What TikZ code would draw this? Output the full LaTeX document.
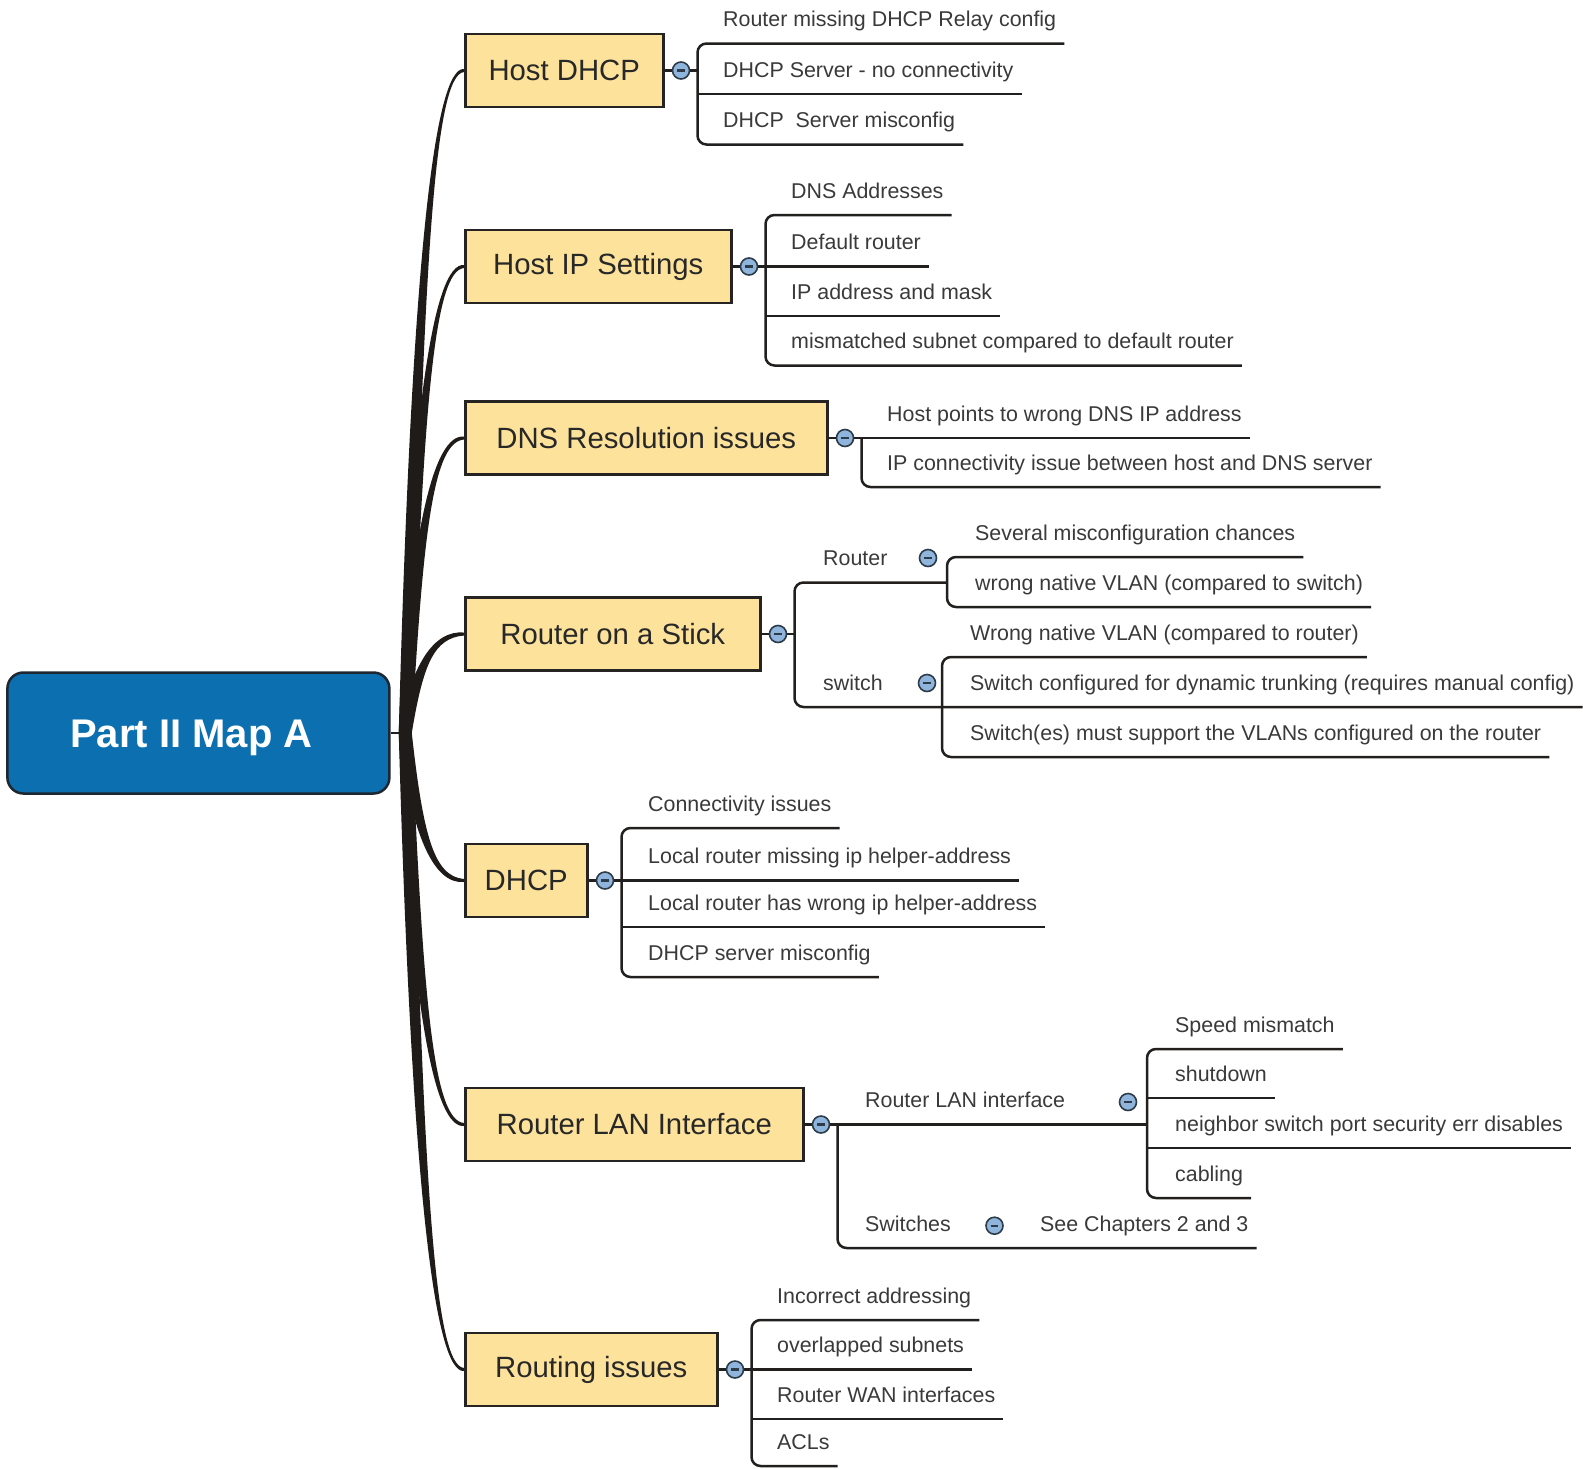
\documentclass[tikz,border=0pt]{standalone}
\usepackage{fontspec}
\setmainfont{Liberation Sans}
\usetikzlibrary{calc}

\definecolor{rootblue}{RGB}{11,111,176}
\definecolor{rootline}{RGB}{30,40,50}
\definecolor{boxfill}{RGB}{252,226,155}
\definecolor{boxline}{RGB}{38,36,34}
\definecolor{boxtext}{RGB}{40,40,40}
\definecolor{leaftext}{RGB}{58,58,58}
\definecolor{lineclr}{RGB}{34,32,30}
\definecolor{trunkclr}{RGB}{30,27,24}
\definecolor{togfill}{RGB}{143,181,220}
\definecolor{togline}{RGB}{46,59,72}

\newcommand\leaffont{\fontsize{21.4}{24}\selectfont}
\newcommand\topicfont{\fontsize{29.3}{32}\selectfont}
\newcommand\rootfont{\fontsize{40}{44}\selectfont\bfseries}

\pgfdeclarelayer{bg}
\pgfsetlayers{bg,main}

% tapered branch from the junction to the west side of a topic box
% #1 topic name; #2/#3 end and control offsets of one edge, #4/#5 of the other
\newcommand\branch[5]{%
  \fill[trunkclr] ($(jn)+(-6.5,0)$)
    .. controls ($(jn)!0.7!(jn|-#1.west)+(6,0)$) and ($(#1.west)+(-30,#3)$)
    .. ($(#1.west)+(0,#2)$)
    -- ($(#1.west)+(0,#4)$)
    .. controls ($(#1.west)+(-30,#5)$) and ($(jn)!0.7!(jn|-#1.west)+(18,0)$)
    .. ($(jn)+(6.5,0)$) -- cycle;}

\begin{document}
\begin{tikzpicture}[x=1pt,y=-1pt,
  rootbox/.style={draw=rootline, line width=2.5pt, fill=rootblue, rounded corners=16pt,
    minimum width=382pt, minimum height=121pt, inner sep=0pt, text=white, font=\rootfont,
    text height=28.6pt, text depth=0pt},
  topic/.style={draw=boxline, line width=2.5pt, fill=boxfill, minimum height=73pt,
    inner sep=0pt, anchor=west, text=boxtext, font=\topicfont},
  leaf/.style={anchor=south west, inner xsep=8pt, inner ysep=0pt, text height=16pt,
    text depth=16.5pt, text=leaftext, font=\leaffont},
  leafline/.style={draw=lineclr, line width=2.5pt, rounded corners=9pt},
  conn/.style={draw=lineclr, line width=2.2pt},
  toggle/.style={circle, draw=togline, line width=1.6pt, fill=togfill, minimum size=17pt,
    inner sep=0pt, path picture={\draw[line width=2.2pt, togline]
      ([xshift=-3.6pt]path picture bounding box.center) --
      ([xshift=3.6pt]path picture bounding box.center);}}
]
\useasboundingbox (0,0) rectangle (1583,1468);
\begin{pgfonlayer}{bg}
  \fill[white] (0,0) rectangle (1583,1468);
\end{pgfonlayer}

% central topic
\node[rootbox] (root) at (198.4,733) {Part II Map A\hspace*{14pt}};
\coordinate (jn) at ($(root.east)+(14.6,0)$);

% main topics
\node[topic, minimum width=198pt] (hd)   at (464,70.5)   {Host DHCP};
\node[topic, minimum width=266pt] (hip)  at (464,266.5)  {Host IP Settings};
\node[topic, minimum width=362pt] (dns)  at (464,438)    {DNS Resolution issues};
\node[topic, minimum width=295pt] (ros)  at (464,634)    {Router on a Stick};
\node[topic, minimum width=122pt] (dhcp) at (464,880.5)  {DHCP};
\node[topic, minimum width=338pt] (lan)  at (464,1124.5) {Router LAN Interface};
\node[topic, minimum width=252pt] (rte)  at (464,1369.5) {Routing issues};

% branches
\begin{pgfonlayer}{bg}
  \draw[conn] (root.east) -- (jn);
  \branch{hd}{-1.5}{-4}{1.5}{4}
  \branch{hip}{-1.5}{-4}{1.5}{4}
  \branch{dns}{-1.5}{-4}{1.5}{4}
  \branch{ros}{-1.5}{-4}{1.5}{4}
  \branch{dhcp}{1.5}{4}{-1.5}{-4}
  \branch{lan}{1.5}{4}{-1.5}{-4}
  \branch{rte}{1.5}{4}{-1.5}{-4}
\end{pgfonlayer}

% collapse toggles and spine anchors
\foreach \t/\i in {hd/1,hip/2,dns/3,ros/4,dhcp/5,lan/6,rte/7}{
  \node[toggle] (c\i) at ($(\t.east)+(16.5,0)$) {};
  \coordinate (s\i) at ($(\t.east)+(33,0)$);
}

% ---- Host DHCP
\node[leaf] (l11) at (715,43.5)  {Router missing DHCP Relay config};
\node[leaf] (l12) at (715,94)    {DHCP Server - no connectivity};
\node[leaf] (l13) at (715,144.5) {DHCP\ \ Server misconfig};
\draw[conn] (hd.east) -- (c1) -- (s1);
\draw[leafline] (l11.south east) -- (l11.south -| s1) -- (l13.south -| s1) -- (l13.south east);
\draw[leafline] (s1 |- l12.south) -- (l12.south east);

% ---- Host IP Settings
\node[leaf] (l21) at (783,215)   {DNS Addresses};
\node[leaf] (l22) at (783,266.5) {Default router};
\node[leaf] (l23) at (783,316)   {IP address and mask};
\node[leaf] (l24) at (783,365.5) {mismatched subnet compared to default router};
\draw[conn] (hip.east) -- (c2) -- (s2);
\draw[leafline] (l21.south east) -- (l21.south -| s2) -- (l24.south -| s2) -- (l24.south east);
\draw[leafline] (s2 |- l22.south) -- (l22.south east);
\draw[leafline] (s2 |- l23.south) -- (l23.south east);

% ---- DNS Resolution issues
\node[leaf] (l31) at (879,438) {Host points to wrong DNS IP address};
\node[leaf] (l32) at (879,487) {IP connectivity issue between host and DNS server};
\draw[conn] (dns.east) -- (c3) -- (s3);
\draw[leafline] (s3) -- (l31.south east);
\draw[leafline] (s3) -- (l32.south -| s3) -- (l32.south east);

% ---- Router on a Stick
\coordinate (j4r) at (947,582.5);
\coordinate (j4s) at (942,707);
\node[leaf] (lr)  at (815,582.5) {Router};
\node[leaf] (lsw) at (815,707)   {switch};
\node[toggle] (cr)  at (928,558) {};
\node[toggle] (csw) at (927,683) {};
\node[leaf] (lr1) at (967,557) {Several misconfiguration chances};
\node[leaf] (lr2) at (967,607) {wrong native VLAN (compared to switch)};
\node[leaf] (ls1) at (962,657) {Wrong native VLAN (compared to router)};
\node[leaf] (ls2) at (962,707) {Switch configured for dynamic trunking (requires manual config)};
\node[leaf] (ls3) at (962,757) {Switch(es) must support the VLANs configured on the router};
\draw[conn] (ros.east) -- (c4) -- (s4);
\draw[leafline] (j4r) -- (j4r -| s4) -- (j4s -| s4) -- (ls2.south east);
\draw[leafline] (lr1.south east) -- (lr1.south -| j4r) -- (lr2.south -| j4r) -- (lr2.south east);
\draw[leafline] (ls1.south east) -- (ls1.south -| j4s) -- (ls3.south -| j4s) -- (ls3.south east);

% ---- DHCP
\node[leaf] (l51) at (640,828)   {Connectivity issues};
\node[leaf] (l52) at (640,880.5) {Local router missing ip helper-address};
\node[leaf] (l53) at (640,927)   {Local router has wrong ip helper-address};
\node[leaf] (l54) at (640,977)   {DHCP server misconfig};
\draw[conn] (dhcp.east) -- (c5) -- (s5);
\draw[leafline] (l51.south east) -- (l51.south -| s5) -- (l54.south -| s5) -- (l54.south east);
\draw[leafline] (s5 |- l52.south) -- (l52.south east);
\draw[leafline] (s5 |- l53.south) -- (l53.south east);

% ---- Router LAN Interface
\coordinate (j6) at (1147,1124.5);
\node[leaf] (lrl) at (857,1124.5) {Router LAN interface};
\node[leaf] (lsws) at (857,1248)  {Switches};
\node[toggle] (crl) at (1128,1102) {};
\node[toggle] (csws) at (994.5,1225.7) {};
\node[leaf] (see) at (1032,1248) {See Chapters 2 and 3};
\node[leaf] (l61) at (1167,1049) {Speed mismatch};
\node[leaf] (l62) at (1167,1098) {shutdown};
\node[leaf] (l63) at (1167,1148) {neighbor switch port security err disables};
\node[leaf] (l64) at (1167,1198) {cabling};
\draw[conn] (lan.east) -- (c6);
\draw[leafline] (c6) -- (j6);
\draw[leafline] (s6) -- (s6 |- see.south) -- (see.south east);
\draw[leafline] (l61.south east) -- (l61.south -| j6) -- (l64.south -| j6) -- (l64.south east);
\draw[leafline] (j6 |- l62.south) -- (l62.south east);
\draw[leafline] (j6 |- l63.south) -- (l63.south east);

% ---- Routing issues
\node[leaf] (l71) at (769,1320)   {Incorrect addressing};
\node[leaf] (l72) at (769,1369.5) {overlapped subnets};
\node[leaf] (l73) at (769,1419)   {Router WAN interfaces};
\node[leaf] (l74) at (769,1466)   {ACLs};
\draw[conn] (rte.east) -- (c7) -- (s7);
\draw[leafline] (l71.south east) -- (l71.south -| s7) -- (l74.south -| s7) -- (l74.south east);
\draw[leafline] (s7 |- l72.south) -- (l72.south east);
\draw[leafline] (s7 |- l73.south) -- (l73.south east);
\end{tikzpicture}
\end{document}
